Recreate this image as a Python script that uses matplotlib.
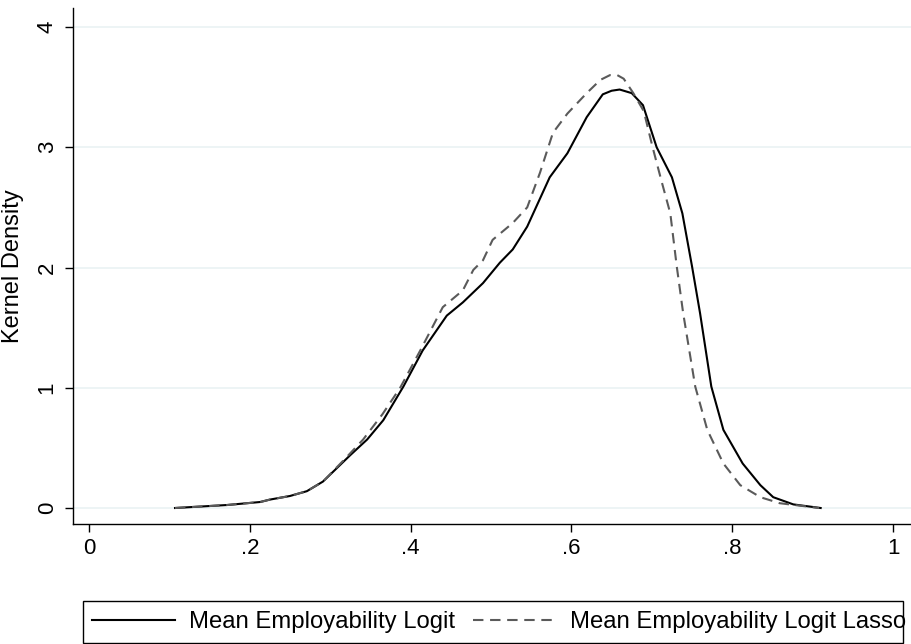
import matplotlib
matplotlib.use("Agg")
import matplotlib.pyplot as plt
from matplotlib import rcParams
from matplotlib.patches import Rectangle

# ==========================================
# Data
# ==========================================
x_logit = [0.107, 0.172, 0.213, 0.225, 0.250, 0.271, 0.291, 0.325, 0.346, 0.366,
           0.391, 0.415, 0.445, 0.465, 0.490, 0.511, 0.527, 0.545, 0.573, 0.595,
           0.619, 0.639, 0.650, 0.660, 0.675, 0.689, 0.706, 0.725, 0.738, 0.750,
           0.760, 0.774, 0.789, 0.813, 0.835, 0.851, 0.876, 0.910]
y_logit = [0.00, 0.025, 0.05, 0.07, 0.10, 0.14, 0.22, 0.44, 0.57, 0.73,
           1.01, 1.31, 1.60, 1.71, 1.87, 2.04, 2.15, 2.34, 2.75, 2.95,
           3.25, 3.44, 3.47, 3.48, 3.45, 3.35, 3.00, 2.75, 2.45, 2.01,
           1.62, 1.01, 0.65, 0.37, 0.19, 0.09, 0.03, 0.00]

x_lasso = [0.107, 0.172, 0.213, 0.225, 0.250, 0.271, 0.291, 0.320, 0.341, 0.365,
           0.387, 0.412, 0.440, 0.465, 0.478, 0.490, 0.502, 0.527, 0.545, 0.561,
           0.577, 0.595, 0.619, 0.636, 0.648, 0.657, 0.665, 0.677, 0.690, 0.701,
           0.712, 0.723, 0.731, 0.739, 0.754, 0.769, 0.789, 0.810, 0.835, 0.859,
           0.908]
y_lasso = [0.00, 0.025, 0.05, 0.07, 0.10, 0.14, 0.22, 0.42, 0.57, 0.78,
           1.00, 1.31, 1.67, 1.81, 1.98, 2.06, 2.23, 2.37, 2.50, 2.79,
           3.12, 3.28, 3.45, 3.56, 3.60, 3.60, 3.57, 3.45, 3.30, 3.00,
           2.72, 2.45, 2.01, 1.62, 1.01, 0.65, 0.37, 0.19, 0.09, 0.04,
           0.00]

x_ticks = [0, 0.2, 0.4, 0.6, 0.8, 1.0]
x_ticklabels = ['0', '.2', '.4', '.6', '.8', '1']
y_ticks = [0, 1, 2, 3, 4]
y_ticklabels = ['0', '1', '2', '3', '4']

label_logit = 'Mean Employability Logit'
label_lasso = 'Mean Employability Logit Lasso'

# ==========================================
# Style
# ==========================================
rcParams['font.family'] = ['Liberation Sans', 'DejaVu Sans']
rcParams['font.size'] = 16

W, H = 912, 644
fig = plt.figure(figsize=(W / 100, H / 100), dpi=100)
ax = fig.add_axes([73 / W, 1 - 524 / H, 1 - 73 / W, (524 - 8) / H])

ax.plot(x_logit, y_logit, color='black', linewidth=1.5, label=label_logit)
ax.plot(x_lasso, y_lasso, color='#5a5a5a', linewidth=1.5, linestyle=(0, (5, 3.2)),
        label=label_lasso)

ax.set_xlim(-0.0199, 1.0236)
ax.set_ylim(-0.133, 4.158)
ax.set_xticks(x_ticks)
ax.set_xticklabels(x_ticklabels)
ax.set_yticks(y_ticks)
ax.set_yticklabels(y_ticklabels, rotation=90, va='center')
ax.tick_params(axis='both', direction='out', length=6, width=1, color='black', labelsize=16)
ax.tick_params(axis='y', pad=5)
ax.tick_params(axis='x', pad=4)
ax.set_ylabel('Kernel Density', fontsize=17)
ax.yaxis.set_label_coords(-0.058, 0.5)

ax.grid(axis='y', color='#eaf2f3', linewidth=1.2)
ax.set_axisbelow(True)
for side in ['top', 'right']:
    ax.spines[side].set_visible(False)
for side in ['left', 'bottom']:
    ax.spines[side].set_linewidth(1.0)

# legend: entries without frame, box drawn as its own rectangle
leg = fig.legend(loc='center left', ncol=2, frameon=False, fontsize=17.2,
                 bbox_to_anchor=(83 / W, 1 - 622 / H),
                 handlelength=3.47, handletextpad=0.59, columnspacing=0.75,
                 borderpad=0.0, borderaxespad=0.38)
fig.patches.append(Rectangle((83 / W, 1 / H), (903 - 83) / W, 42 / H,
                             transform=fig.transFigure, fill=False,
                             edgecolor='black', linewidth=1.0))

fig.savefig('out.png', dpi=100)
